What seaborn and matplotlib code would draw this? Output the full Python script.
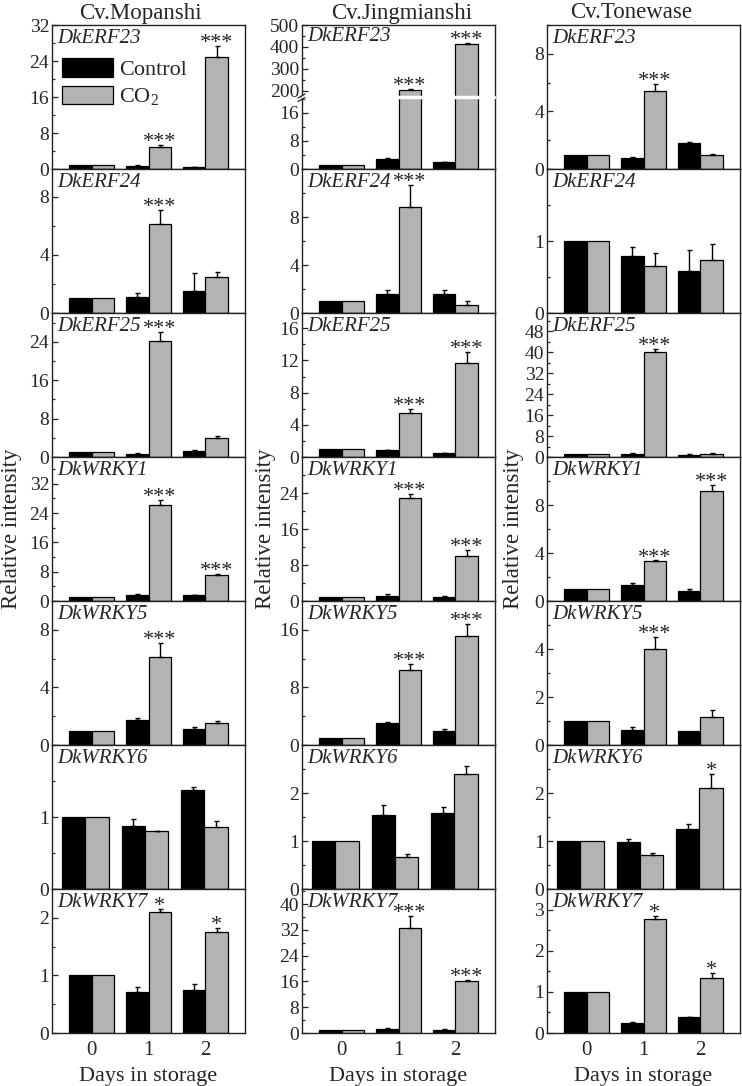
import pandas as pd
import seaborn as sns
import matplotlib.pyplot as plt
from matplotlib.patches import Patch
from matplotlib.lines import Line2D
from matplotlib.ticker import FixedLocator, MultipleLocator, FormatStrFormatter

days = [0, 1, 2]
genes = ["DkERF23", "DkERF24", "DkERF25", "DkWRKY1", "DkWRKY5", "DkWRKY6", "DkWRKY7"]
cultivars = ["Cv.Mopanshi", "Cv.Jingmianshi", "Cv.Tonewase"]
treatments = ["Control", "CO$_2$"]

# Cv.Mopanshi (rows follow genes, columns follow days)
mop_ctrl = [[1.0, 0.7, 0.5], [1.0, 1.1, 1.5], [1.0, 0.7, 1.2], [1.0, 1.7, 1.6],
            [1.0, 1.77, 1.1], [1.0, 0.88, 1.37], [1.0, 0.72, 0.74]]
mop_ctrl_err = [[0, 0.08, 0.05], [0, 0.25, 1.25], [0, 0.1, 0.2], [0, 0.2, 0.1],
                [0, 0.12, 0.18], [0, 0.09, 0.04], [0, 0.08, 0.11]]
mop_co2 = [[1.0, 4.9, 25.0], [1.0, 6.1, 2.45], [1.0, 24.2, 3.9], [1.0, 26.2, 7.1],
           [1.0, 6.1, 1.53], [1.0, 0.8, 0.86], [1.0, 2.1, 1.75]]
mop_co2_err = [[0, 0.5, 2.4], [0, 1.0, 0.35], [0, 1.9, 0.5], [0, 1.3, 0.25],
               [0, 1.0, 0.14], [0, 0.01, 0.09], [0, 0.05, 0.08]]
mop_sig = [["", "***", "***"], ["", "***", ""], ["", "***", ""], ["", "***", "***"],
           ["", "***", ""], ["", "", ""], ["", "*", "*"]]

# Cv.Jingmianshi
jing_ctrl = [[1.0, 2.9, 2.0], [1.0, 1.6, 1.6], [1.0, 0.85, 0.45], [1.0, 1.2, 0.95],
             [1.0, 3.0, 1.9], [1.0, 1.55, 1.58], [1.0, 1.3, 1.0]]
jing_ctrl_err = [[0, 0.1, 0.1], [0, 0.35, 0.3], [0, 0.08, 0.08], [0, 0.3, 0.25],
                 [0, 0.15, 0.3], [0, 0.21, 0.13], [0, 0.15, 0.1]]
jing_co2 = [[1.0, 204, 413], [1.0, 8.85, 0.67], [1.0, 5.45, 11.65], [1.0, 22.9, 10.1],
            [1.0, 10.4, 15.2], [1.0, 0.66, 2.39], [1.0, 32.7, 16.2]]
jing_co2_err = [[0, 5, 4], [0, 1.85, 0.35], [0, 0.55, 1.45], [0, 0.9, 1.3],
                [0, 0.8, 1.6], [0, 0.07, 0.17], [0, 3.5, 0.3]]
jing_sig = [["", "***", "***"], ["", "***", ""], ["", "***", "***"], ["", "***", "***"],
            ["", "***", "***"], ["", "", ""], ["", "***", "***"]]

# Cv.Tonewase
tone_ctrl = [[1.0, 0.75, 1.8], [1.0, 0.79, 0.58], [1.0, 1.2, 0.9], [1.0, 1.34, 0.84],
             [1.0, 0.63, 0.57], [1.0, 0.98, 1.25], [1.0, 0.25, 0.38]]
tone_ctrl_err = [[0, 0.05, 0.05], [0, 0.13, 0.3], [0, 0.2, 0.1], [0, 0.14, 0.19],
                 [0, 0.14, 0.0], [0, 0.07, 0.11], [0, 0.02, 0.02]]
tone_co2 = [[1.0, 5.45, 1.0], [1.0, 0.65, 0.73], [1.0, 40.0, 1.2], [1.0, 3.33, 9.17],
            [1.0, 4.0, 1.16], [1.0, 0.71, 2.1], [1.0, 2.78, 1.34]]
tone_co2_err = [[0, 0.45, 0.07], [0, 0.19, 0.23], [0, 1.2, 0.3], [0, 0.05, 0.53],
                [0, 0.5, 0.28], [0, 0.04, 0.29], [0, 0.07, 0.11]]
tone_sig = [["", "***", ""], ["", "", ""], ["", "***", ""], ["", "***", "***"],
            ["", "***", ""], ["", "", "*"], ["", "*", "*"]]

# axis ranges / ticks per column
ylims = [[32, 9.9, 30, 39.3, 10, 2, 2.5],
         [20.5, 12, 17.9, 32, 20, 3, 44.7],
         [10, 2, 55, 12, 6, 3, 3.5]]
yticks = [[[0, 8, 16, 24, 32], [0, 4, 8], [0, 8, 16, 24], [0, 8, 16, 24, 32], [0, 4, 8], [0, 1], [0, 1, 2]],
          [[0, 8, 16], [0, 4, 8], [0, 4, 8, 12, 16], [0, 8, 16, 24], [0, 8, 16], [0, 1, 2], [0, 8, 16, 24, 32, 40]],
          [[0, 4, 8], [0, 1], [0, 8, 16, 24, 32, 40, 48], [0, 4, 8], [0, 2, 4], [0, 1, 2], [0, 1, 2, 3]]]
yminor = [[4, 2, 4, 4, 2, 0.5, 0.5],
          [4, 2, 2, 4, 4, 0.5, 4],
          [2, 0.5, 4, 2, 1, 0.5, 0.5]]
break_top = (172, 500)
break_ticks = [200, 300, 400, 500]

BLACK = "#000000"
GREY = "#b3b3b3"

sns.set_style("ticks")
plt.rcParams["font.family"] = ["Liberation Serif", "DejaVu Serif"]
plt.rcParams["mathtext.fontset"] = "custom"
plt.rcParams["mathtext.rm"] = "Liberation Serif"
plt.rcParams["mathtext.it"] = "Liberation Serif:italic"

W, H = 742, 1086
fig = plt.figure(figsize=(W / 100, H / 100), dpi=100)

col_left = [52, 302, 547]
col_w = 193
row_top = 25
row_h = 144


def px_axes(x, y, w, h):
    return fig.add_axes([x / W, 1 - (y + h) / H, w / W, h / H])


def style_axis(ax, ymax_lo, ymax_hi, ticks, minor):
    ax.set_ylim(ymax_lo, ymax_hi)
    ax.yaxis.set_major_locator(FixedLocator(ticks))
    ax.yaxis.set_major_formatter(FormatStrFormatter("%g"))
    ax.yaxis.set_minor_locator(MultipleLocator(minor))
    ax.tick_params(axis="y", which="both", direction="in", width=0.9, labelsize=14, pad=2)
    ax.tick_params(axis="y", which="major", length=4)
    ax.tick_params(axis="y", which="minor", length=2)
    ax.tick_params(axis="x", length=0, labelsize=15, pad=6)
    for s in ax.spines.values():
        s.set_linewidth(1.0)
        s.set_color("#222222")
    ax.set_ylabel("")


def draw_bars(ax, ctrl, ctrl_err, co2, co2_err, sig, width, xlim):
    df = pd.DataFrame({"day": days * 2, "value": ctrl + co2,
                       "treatment": [treatments[0]] * 3 + [treatments[1]] * 3})
    sns.barplot(data=df, x="day", y="value", hue="treatment", hue_order=treatments,
                palette=[BLACK, GREY], saturation=1, edgecolor="black", linewidth=0.9,
                errorbar=None, width=width, legend=False, ax=ax)
    lo, hi = ax.get_ylim()
    for cont, err in zip(ax.containers, [ctrl_err, co2_err]):
        for bar, e in zip(cont, err):
            if e > 0:
                ax.errorbar(bar.get_x() + bar.get_width() / 2, bar.get_height(),
                            yerr=[[0], [e]], fmt="none", ecolor="black",
                            elinewidth=1, capsize=1.8, capthick=1)
    for bar, e, s in zip(ax.containers[1], co2_err, sig):
        top = bar.get_height() + e
        if s and lo <= top <= hi:
            ax.annotate(s, (bar.get_x() + bar.get_width() / 2, top), xytext=(0, -1.5),
                        textcoords="offset points", ha="center", va="baseline",
                        fontsize=16, annotation_clip=False)
    ax.set_xlim(*xlim)
    ax.set_xlabel("")


ctrl_all = [mop_ctrl, jing_ctrl, tone_ctrl]
ctrl_err_all = [mop_ctrl_err, jing_ctrl_err, tone_ctrl_err]
co2_all = [mop_co2, jing_co2, tone_co2]
co2_err_all = [mop_co2_err, jing_co2_err, tone_co2_err]
sig_all = [mop_sig, jing_sig, tone_sig]

for c in range(3):
    for r, gene in enumerate(genes):
        width = 0.78 if r == 5 else 0.8
        xlim = (-0.56, 2.68) if r == 5 else (-0.7, 2.7)
        args = (ctrl_all[c][r], ctrl_err_all[c][r], co2_all[c][r], co2_err_all[c][r], sig_all[c][r])
        y0 = row_top + r * row_h
        if c == 1 and r == 0:
            # broken y axis
            split = 72
            ax_t = px_axes(col_left[c], y0, col_w, split)
            ax_b = px_axes(col_left[c], y0 + split, col_w, row_h - split)
            ax_t.set_ylim(*break_top)
            ax_b.set_ylim(0, ylims[c][r])
            draw_bars(ax_t, *args, width, xlim)
            draw_bars(ax_b, *args, width, xlim)
            style_axis(ax_t, break_top[0], break_top[1], break_ticks, 50)
            style_axis(ax_b, 0, ylims[c][r], yticks[c][r], yminor[c][r])
            ax_t.spines["bottom"].set_visible(False)
            ax_b.spines["top"].set_visible(False)
            ax_t.set_xticklabels([])
            ax_b.set_xticklabels([])
            ax_b.axhline(ylims[c][r], xmin=0.006, xmax=0.994, color="white", lw=2.5,
                         zorder=5, clip_on=False)
            bx = col_left[c] / W
            by = 1 - (y0 + split) / H
            for dy in (-2.5, 1.0):
                fig.add_artist(Line2D([bx - 4 / W, bx + 3 / W],
                                      [by + (dy - 2) / H, by + (dy + 2) / H],
                                      color="#222222", lw=0.9))
            ax = ax_t
        else:
            ax = px_axes(col_left[c], y0, col_w, row_h)
            ax.set_ylim(0, ylims[c][r])
            draw_bars(ax, *args, width, xlim)
            style_axis(ax, 0, ylims[c][r], yticks[c][r], yminor[c][r])
            if r < len(genes) - 1:
                ax.set_xticklabels([])
            else:
                ax.set_xlabel("Days in storage", fontsize=16, labelpad=5)
        ax.text(0.026, 0.975, gene, transform=ax.transAxes, ha="left", va="top",
                fontsize=15, style="italic")
        if c == 0 and r == 0:
            ax.legend(handles=[Patch(facecolor=BLACK, edgecolor="black", linewidth=0.9),
                               Patch(facecolor=GREY, edgecolor="black", linewidth=0.9)],
                      labels=treatments, loc="upper left", bbox_to_anchor=(0.05, 0.77),
                      frameon=False, fontsize=16, handlelength=2.3, handleheight=0.9,
                      handletextpad=0.3, labelspacing=0.25, borderpad=0, borderaxespad=0)

title_x = [140, 402, 631]
ylabel_x = [12, 266, 514]
for c in range(3):
    fig.text(title_x[c] / W, 1 - 18.5 / H, cultivars[c], ha="center", va="baseline", fontsize=16.5)
    fig.text(ylabel_x[c] / W, 1 - 529 / H, "Relative intensity", rotation=90,
             ha="center", va="center", fontsize=16.5)

fig.savefig("out.png", dpi=100)
